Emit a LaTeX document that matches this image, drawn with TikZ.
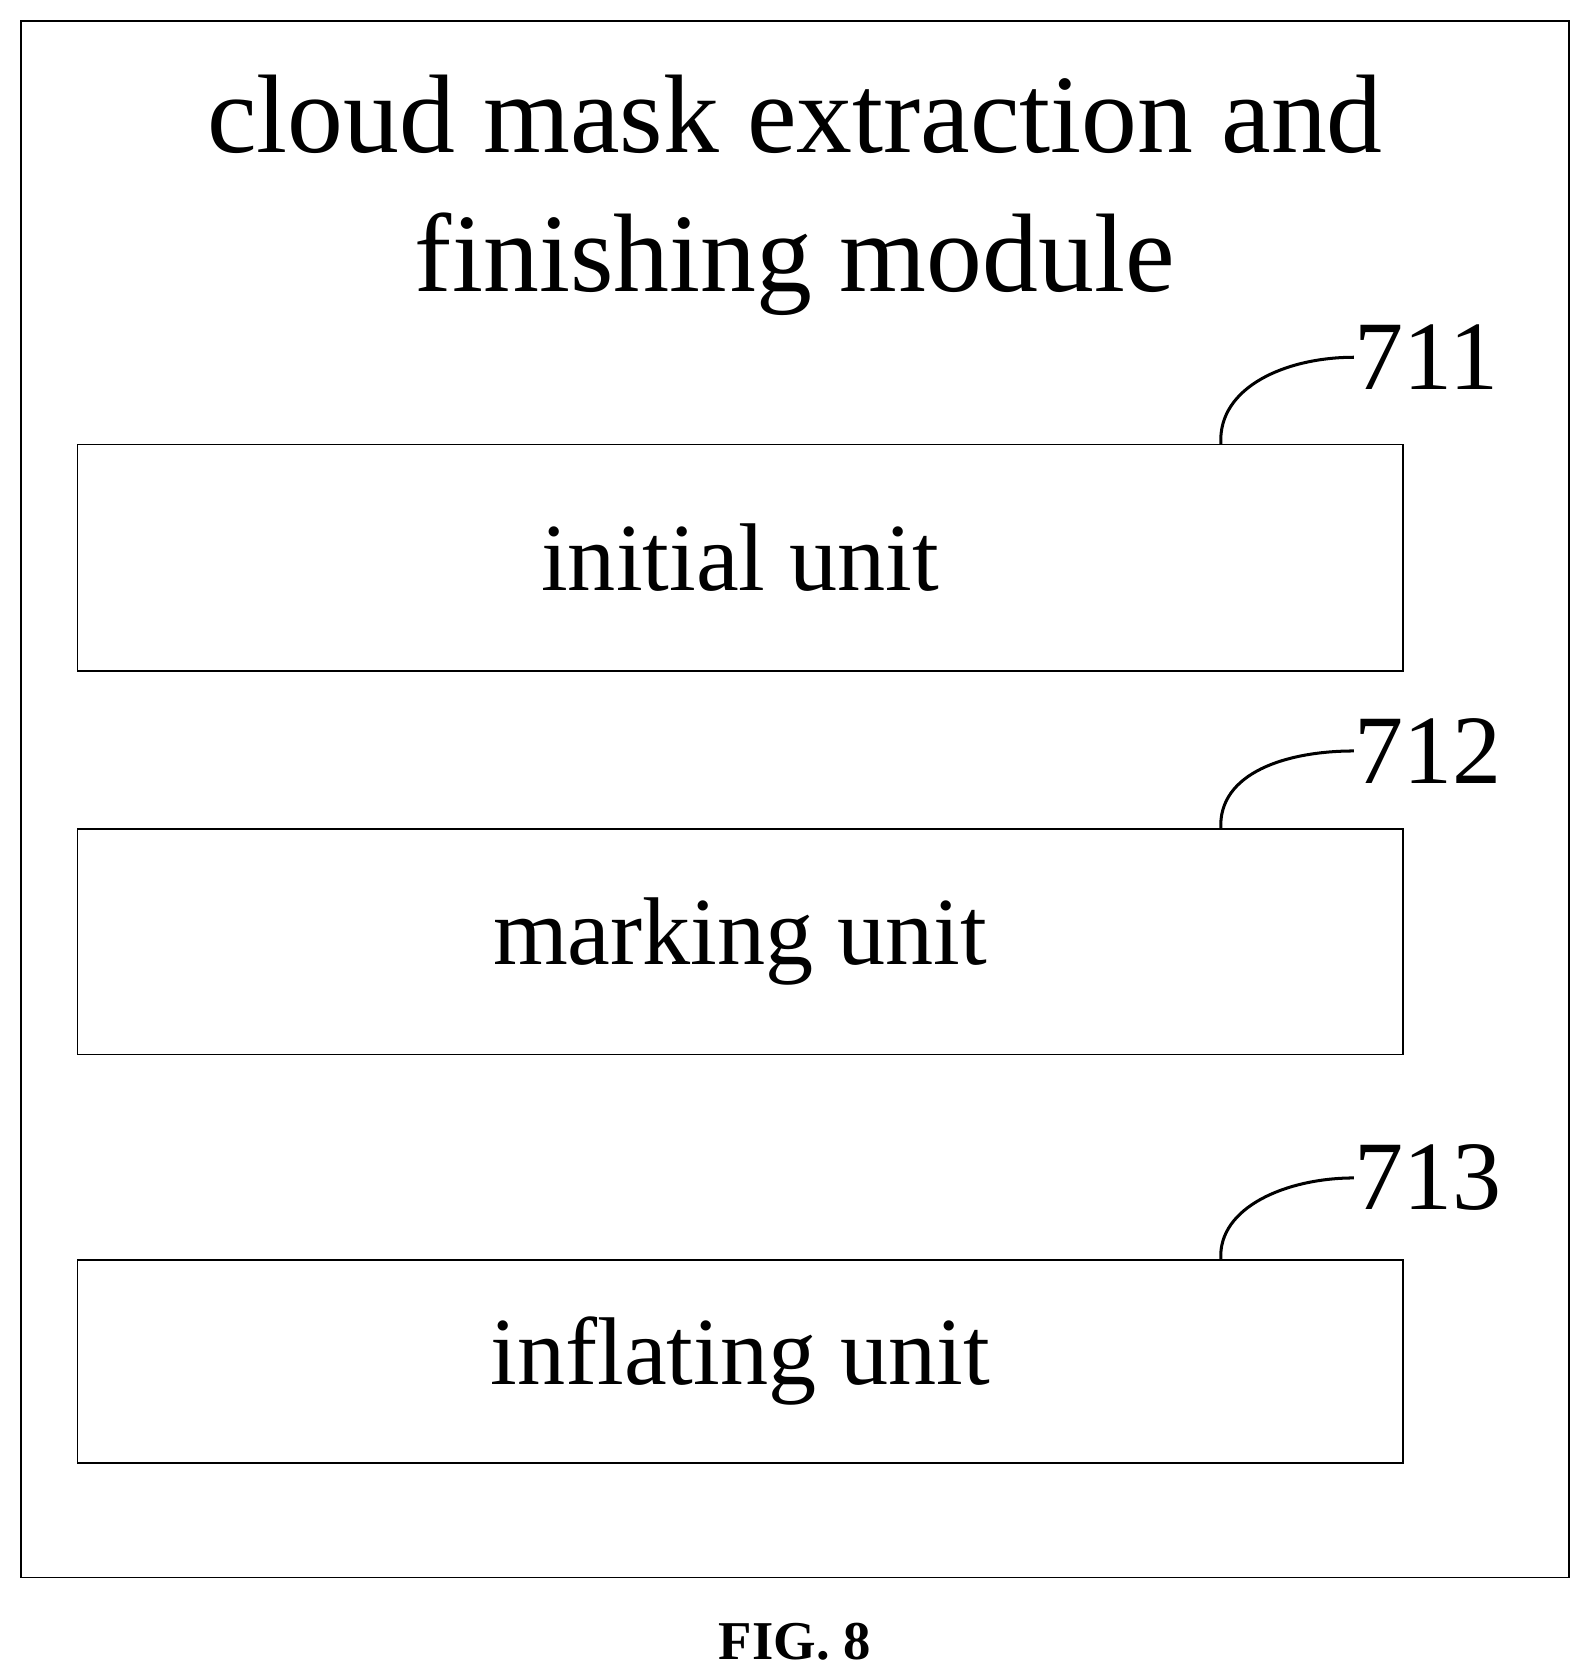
\documentclass[tikz,border=0pt]{standalone}
\usepackage{fontspec}
\setmainfont{Liberation Serif}
\usetikzlibrary{positioning}

\tikzset{unit/.style={draw,minimum width=12.35cm,font=\fontsize{25.5}{31}\selectfont},
         num/.style={font=\fontsize{26}{31}\selectfont,anchor=west,inner sep=0pt}}

\begin{document}
\begin{tikzpicture}[x=0.01cm,y=-0.01cm]
\useasboundingbox (0,0) rectangle (1480,1566);
\node [draw,minimum width=14.42cm,minimum height=14.5cm] (frame) at (741,745) {};
\node [align=center,font=\fontsize{29.6}{37}\selectfont] (title) at (741,182)
  {cloud mask extraction and\\finishing module};
% units
\node [unit,minimum height=2.11cm] (initial) at (690,520) {initial unit};
\node [unit,minimum height=2.1cm] (marking) at (690,878) {marking unit};
\node [unit,minimum height=1.89cm] (inflating) at (690,1269) {inflating unit};
% reference numerals
\node [num] (n711) at (1262,333) {711};
\node [num] (n712) at (1262,700) {712};
\node [num] (n713) at (1262,1098) {713};
\coordinate (c711) at (1138,414);
\coordinate (c712) at (1138,773);
\coordinate (c713) at (1138,1174);
\draw [thick] (c711) .. controls (1135,360) and (1200,333) .. (n711.west);
\draw [thick] (c712) .. controls (1135,720) and (1200,700) .. (n712.west);
\draw [thick] (c713) .. controls (1135,1125) and (1200,1098) .. (n713.west);
\node [font=\bfseries\fontsize{14.5}{18}\selectfont] (fig) at (741,1530) {FIG. 8};
\end{tikzpicture}
\end{document}
